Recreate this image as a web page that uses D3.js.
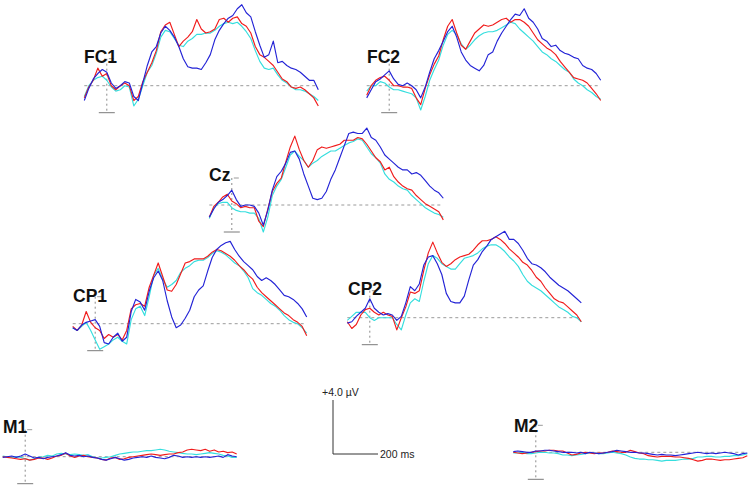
<!DOCTYPE html>
<html><head><meta charset="utf-8">
<script src="https://cdn.jsdelivr.net/npm/d3@7"></script>
<style>html,body{margin:0;padding:0;background:#fff;} svg{display:block;}</style>
</head><body>
<svg id="chart" width="750" height="487"></svg>
<script>
// ---- data (time in ms, amplitude in µV) ----
const times = [-100,-80,-60,-40,-20,0,20,40,60,80,100,120,140,160,180,200,220,240,260,280,300,320,340,360,380,400,420,440,460,480,500,520,540,560,580,600,620,640,660,680,700,720,740,760,780,800,820,840,860,880,900,920,940];
const channels = ["FC1","FC2","Cz","CP1","CP2","M1","M2"];
const conditionNames = ["cyan","red","blue"];

const fc1Red  = [-0.9,-0.1,0.4,1.3,0.7,0.9,0.0,-0.3,0.0,0.2,0.0,-1.1,-0.8,0.3,1.0,1.7,2.6,4.0,4.5,4.7,3.8,2.9,3.3,3.6,4.0,4.9,4.2,3.9,4.0,4.2,4.9,5.0,4.7,5.0,5.1,4.6,4.4,3.9,2.9,2.3,2.1,1.8,1.5,1.0,0.5,0.3,-0.1,-0.2,-0.1,-0.3,-0.6,-0.9,-1.5];
const fc1Blue = [-1.1,-0.2,0.5,0.9,1.2,1.0,0.2,-0.2,0.0,0.3,0.2,-0.8,-1.1,0.2,1.5,2.5,2.9,3.9,4.4,4.1,3.6,2.9,2.0,1.4,1.3,1.3,1.2,1.7,2.3,3.4,4.1,4.6,5.0,5.2,5.7,6.0,5.4,5.1,4.0,3.0,2.1,2.3,3.3,1.7,1.8,1.5,1.3,1.2,1.0,0.7,0.4,0.4,-0.3];
const fc1Cyan = [-0.8,0.0,0.4,0.6,0.7,0.4,-0.1,-0.4,-0.3,0.0,-0.1,-1.5,-1.0,0.0,1.0,1.5,2.4,3.6,4.1,4.0,3.5,3.0,2.9,3.3,3.5,3.8,3.8,3.9,3.9,4.1,4.4,4.6,4.7,4.6,4.7,4.4,4.0,3.5,2.6,1.8,1.3,1.2,1.3,0.8,0.4,0.2,-0.1,-0.3,-0.3,-0.4,-0.6,-0.8,-1.1];

const fc2Red  = [-0.7,0.0,0.4,0.6,0.7,0.4,0.0,0.0,-0.1,-0.1,-0.2,-0.9,-1.4,-0.2,0.8,1.6,2.2,3.4,4.4,4.9,3.9,3.0,2.7,3.3,3.9,4.2,4.5,4.4,4.5,4.7,4.9,5.0,4.7,4.9,4.9,4.7,4.4,3.9,3.4,3.1,2.8,2.6,2.3,1.8,1.4,1.0,0.6,0.5,0.4,0.2,-0.2,-0.6,-1.1];
const fc2Blue = [-0.9,-0.3,0.3,0.5,0.8,1.1,0.5,0.1,0.0,0.2,0.0,-0.3,-0.9,-0.1,1.0,2.0,2.6,3.3,4.0,4.4,3.6,2.5,1.9,1.5,1.3,1.1,1.5,2.3,2.5,3.3,3.9,4.4,4.9,5.3,5.2,5.7,5.0,4.7,4.2,3.5,3.3,2.9,3.0,2.6,2.4,2.3,2.1,2.0,1.5,1.3,1.2,0.9,0.4];
const fc2Cyan = [-0.4,0.0,0.0,0.3,0.2,-0.1,-0.3,-0.3,-0.4,-0.5,-0.6,-0.9,-1.8,-0.8,0.4,1.2,1.9,3.0,3.8,4.1,3.8,3.1,2.7,3.0,3.4,3.7,3.9,4.0,4.0,4.1,4.3,4.5,4.7,4.6,4.2,3.9,3.6,3.3,2.9,2.5,2.3,2.0,1.8,1.5,1.2,1.0,0.5,0.2,0.0,-0.3,-0.5,-0.8,-1.0];

const czRed  = [-0.9,-0.1,0.2,0.6,0.8,0.3,0.1,-0.2,-0.1,-0.2,-0.2,-1.2,-1.6,-0.3,1.0,1.6,2.0,3.2,4.3,5.1,4.1,3.3,2.8,3.3,4.1,4.3,4.2,4.3,4.4,4.5,4.8,4.8,4.8,5.0,4.9,4.5,4.0,3.5,3.2,2.6,2.8,2.1,1.7,1.4,1.2,1.1,0.7,0.4,0.1,-0.1,-0.3,-0.5,-1.1];
const czBlue = [-0.9,-0.3,0.2,0.4,0.7,1.1,0.4,-0.1,0.0,0.0,-0.1,-0.6,-1.5,-0.4,1.1,2.1,2.5,3.1,3.9,4.0,3.4,2.3,1.4,0.5,0.4,0.5,1.0,1.9,2.6,3.5,4.4,5.3,5.4,5.3,5.3,5.7,5.0,4.8,4.3,3.7,3.4,3.1,2.8,2.6,2.6,2.3,2.4,2.2,1.8,1.4,1.1,0.9,0.5];
const czCyan = [-1.0,-0.2,0.1,0.2,0.2,-0.2,-0.4,-0.5,-0.5,-0.6,-0.6,-1.0,-2.0,-0.9,0.7,1.4,1.9,2.8,3.7,4.0,3.6,3.3,2.8,3.1,3.3,3.6,3.8,4.0,4.0,4.2,4.4,4.6,4.7,4.9,4.8,4.3,3.8,3.5,3.1,2.3,1.9,1.7,1.4,1.2,1.1,0.7,0.4,0.1,-0.2,-0.4,-0.6,-0.7,-0.9];

const cp1Red  = [-0.2,-0.5,-0.1,0.9,0.1,-0.3,-0.5,-1.1,-0.8,-1.0,-0.8,-1.2,-0.5,1.1,1.4,1.5,1.3,2.7,3.6,4.5,3.5,2.5,2.4,2.9,3.7,4.5,4.6,4.8,4.8,4.8,5.0,5.3,5.5,5.4,5.2,5.0,4.7,4.3,4.0,3.6,3.3,2.7,2.3,2.0,1.7,1.4,1.1,0.8,0.6,0.3,0.1,-0.2,-0.9];
const cp1Blue = [-0.3,-0.5,-0.1,0.1,0.2,0.3,-0.2,-1.4,-1.5,-1.0,-0.7,-1.3,-1.0,0.9,1.8,1.6,1.0,2.4,3.4,3.9,3.2,1.7,0.5,-0.3,-0.1,0.4,1.0,2.0,2.5,2.8,3.9,4.9,5.5,5.8,6.0,6.1,5.5,5.0,4.6,4.3,4.0,3.5,3.2,3.4,3.2,2.9,2.5,2.1,2.0,1.8,1.5,1.1,0.5];
const cp1Cyan = [-0.3,-0.5,-0.2,0.1,-0.5,-1.2,-1.9,-1.7,-1.5,-1.2,-1.0,-1.3,-1.5,0.3,1.1,1.3,0.6,2.0,3.6,4.1,3.3,2.7,2.9,3.2,3.8,4.1,4.3,4.6,4.7,4.7,4.9,5.2,5.4,5.3,5.1,4.8,4.5,4.3,3.9,3.4,2.6,2.3,2.1,1.8,1.5,1.3,1.0,0.6,0.3,0.1,0.0,-0.3,-0.7];

const cp2Red  = [-0.3,-0.8,-0.5,0.2,0.6,0.7,0.4,0.2,0.4,0.2,0.1,-0.9,0.0,0.8,1.9,1.8,2.0,3.5,4.8,5.6,4.8,4.1,3.8,4.0,4.3,4.5,4.6,4.7,5.0,5.4,5.7,5.7,5.8,6.0,5.8,5.5,5.1,4.8,4.5,4.1,3.9,3.5,3.0,2.7,2.2,1.8,1.4,1.2,1.1,0.8,0.5,0.2,-0.3];
const cp2Blue = [-0.4,-0.3,0.1,0.4,0.7,1.4,0.7,0.4,0.2,0.3,0.2,-0.2,0.1,1.1,2.3,2.0,2.5,3.9,4.5,4.6,4.0,3.2,1.8,1.2,1.1,1.1,1.6,2.8,3.9,4.3,4.9,5.3,5.8,6.0,6.2,6.4,5.8,5.8,5.5,5.0,4.4,4.0,3.9,3.7,3.4,3.0,2.7,2.4,2.2,2.0,1.7,1.4,1.1];
const cp2Cyan = [-0.2,0.1,0.4,0.4,0.4,0.0,-0.2,0.0,0.0,0.0,0.0,-0.5,-0.9,0.2,1.1,1.4,1.2,2.7,4.0,4.6,4.4,4.0,3.8,3.6,3.6,4.0,4.4,4.5,4.6,4.8,5.1,5.3,5.4,5.4,5.2,4.9,4.5,4.2,3.8,3.2,2.7,2.4,2.2,2.0,1.7,1.4,1.1,0.8,0.6,0.4,0.1,0.0,-0.3];

const m1Red  = [0.0,-0.05,-0.1,-0.15,-0.2,-0.15,-0.25,-0.2,-0.1,-0.1,-0.2,-0.1,0.05,0.1,0.25,0.05,-0.05,0.05,0.1,0.0,-0.05,-0.1,-0.2,-0.25,-0.1,-0.05,-0.2,-0.15,-0.05,0.0,0.05,0.1,0.15,0.2,0.15,0.1,0.15,0.2,0.2,0.3,0.35,0.5,0.55,0.5,0.45,0.55,0.4,0.5,0.35,0.4,0.3,0.35,0.2];
const m1Blue = [-0.05,0.0,0.05,-0.05,0.05,0.2,0.05,-0.1,-0.05,-0.15,-0.05,0.0,0.05,0.15,0.3,0.1,0.05,0.1,0.0,0.05,-0.05,-0.1,-0.2,-0.25,-0.15,-0.05,-0.15,-0.25,-0.2,-0.1,-0.05,0.0,-0.05,0.05,-0.05,-0.1,-0.15,-0.05,0.1,0.05,-0.05,0.0,-0.05,0.0,-0.05,0.0,-0.05,0.0,0.05,-0.05,0.15,0.05,0.0];
const m1Cyan = [0.05,0.0,-0.05,0.0,-0.05,-0.15,-0.25,-0.15,-0.05,0.0,0.1,0.05,0.2,0.25,0.2,0.15,0.2,0.15,0.1,0.15,0.0,-0.1,-0.1,-0.05,0.0,0.1,0.2,0.25,0.3,0.35,0.35,0.4,0.45,0.45,0.5,0.55,0.5,0.4,0.35,0.3,0.25,0.2,0.2,0.15,0.2,0.25,0.3,0.25,0.2,0.1,0.05,-0.05,-0.05];

const m2Red  = [0.0,-0.05,-0.1,-0.05,0.0,0.05,0.1,0.1,0.15,0.15,0.1,0.1,-0.05,-0.2,-0.15,-0.05,0.0,-0.05,-0.1,-0.05,-0.05,0.0,0.1,0.05,0.0,0.0,0.15,0.05,-0.05,-0.1,-0.25,-0.3,-0.35,-0.3,-0.3,-0.3,-0.35,-0.35,-0.4,-0.45,-0.55,-0.65,-0.6,-0.5,-0.5,-0.55,-0.6,-0.55,-0.55,-0.5,-0.45,-0.4,-0.25];
const m2Blue = [0.05,0.1,0.05,0.0,0.0,0.1,0.1,0.15,0.15,0.1,0.05,0.0,0.0,0.0,-0.05,0.0,-0.1,0.0,-0.05,-0.1,-0.05,0.0,0.05,0.15,0.1,0.05,0.0,0.0,-0.05,-0.05,-0.1,-0.15,-0.2,-0.15,-0.2,-0.2,-0.25,-0.2,-0.15,-0.1,-0.05,0.0,-0.05,-0.1,-0.05,-0.1,-0.05,0.0,-0.05,-0.1,-0.2,-0.1,-0.05];
const m2Cyan = [-0.05,-0.05,0.0,-0.1,-0.1,-0.05,0.0,0.0,-0.05,-0.05,-0.1,-0.2,-0.2,-0.25,-0.2,-0.15,-0.1,-0.05,-0.05,-0.1,-0.1,-0.05,0.0,-0.05,-0.1,-0.2,-0.35,-0.45,-0.5,-0.5,-0.55,-0.55,-0.6,-0.65,-0.6,-0.6,-0.6,-0.55,-0.5,-0.5,-0.45,-0.35,-0.35,-0.3,-0.3,-0.35,-0.35,-0.3,-0.3,-0.25,-0.25,-0.2,-0.1];

const scaleBarLabels = ["+4.0 µV", "200 ms"];
const scaleBarValues = [4, 200];

// ---- assembly (layout separate from data) ----
const series = {
  FC1: {cyan: fc1Cyan, red: fc1Red, blue: fc1Blue},
  FC2: {cyan: fc2Cyan, red: fc2Red, blue: fc2Blue},
  Cz:  {cyan: czCyan,  red: czRed,  blue: czBlue},
  CP1: {cyan: cp1Cyan, red: cp1Red, blue: cp1Blue},
  CP2: {cyan: cp2Cyan, red: cp2Red, blue: cp2Blue},
  M1:  {cyan: m1Cyan,  red: m1Red,  blue: m1Blue},
  M2:  {cyan: m2Cyan,  red: m2Red,  blue: m2Blue}
};
const layout = {
  FC1: {x: 84.3,  base: 85.7,  lx: 84,  ly: 62.5},
  FC2: {x: 366.7, base: 85.7,  lx: 367, ly: 63},
  Cz:  {x: 209.3, base: 205,   lx: 209, ly: 181},
  CP1: {x: 72.7,  base: 323.7, lx: 73,  ly: 302},
  CP2: {x: 347.3, base: 317.7, lx: 348, ly: 295},
  M1:  {x: 2.7,   base: 456.7, lx: 3,   ly: 433},
  M2:  {x: 513.3, base: 452.3, lx: 514, ly: 432}
};
const colors = {cyan: "#35dede", red: "#f01c1c", blue: "#2323d6"};
const epochW = 234;      // px for the whole epoch
const pxPerUV = 13.5;    // px per µV

const svg = d3.select("#chart");
const FONT = "'Liberation Sans', Arial, Helvetica, sans-serif";

channels.forEach(ch => {
  const L = layout[ch];
  const x = d3.scaleLinear().domain([times[0], times[times.length-1]]).range([L.x, L.x + epochW]);
  const y = d3.scaleLinear().domain([-2, 2]).range([L.base + 2*pxPerUV, L.base - 2*pxPerUV]);
  const g = svg.append("g");

  // baseline (dashed)
  g.append("line")
    .attr("x1", x(times[0])).attr("x2", x(times[times.length-1]))
    .attr("y1", y(0)).attr("y2", y(0))
    .attr("stroke", "#9a9a9a").attr("stroke-width", 1)
    .attr("stroke-dasharray", "3,3");
  // vertical axis at t=0
  g.append("line")
    .attr("x1", x(0)).attr("x2", x(0))
    .attr("y1", y(2)).attr("y2", y(-2))
    .attr("stroke", "#8a8a8a").attr("stroke-width", 1)
    .attr("stroke-dasharray", "2,3");
  // bottom tick
  g.append("line")
    .attr("x1", x(0) - 8).attr("x2", x(0) + 8)
    .attr("y1", y(-2)).attr("y2", y(-2))
    .attr("stroke", "#7a7a7a").attr("stroke-width", 1);
  // top tick
  g.append("line")
    .attr("x1", x(0) + 2).attr("x2", x(0) + 7)
    .attr("y1", y(2)).attr("y2", y(2))
    .attr("stroke", "#9a9a9a").attr("stroke-width", 1);

  const line = d3.line().x((d, i) => x(times[i])).y(d => y(d));
  conditionNames.forEach(c => {
    g.append("path")
      .datum(series[ch][c])
      .attr("d", line)
      .attr("fill", "none")
      .attr("stroke", colors[c])
      .attr("stroke-width", 1.15)
      .attr("stroke-linejoin", "round");
  });

  svg.append("text")
    .attr("x", L.lx).attr("y", L.ly)
    .attr("font-family", FONT)
    .attr("font-weight", "bold")
    .attr("font-size", 17.5)
    .attr("fill", "#111")
    .text(ch);
});

// ---- calibration bar ----
const sbX = d3.scaleLinear().domain([0, scaleBarValues[1]]).range([333, 333 + scaleBarValues[1] * epochW / (times[times.length-1] - times[0])]);
const sbY = d3.scaleLinear().domain([0, scaleBarValues[0]]).range([454, 454 - scaleBarValues[0] * pxPerUV]);
svg.append("path")
  .attr("d", `M${sbX(0)},${sbY(scaleBarValues[0])}V${sbY(0)}H${sbX(scaleBarValues[1])}`)
  .attr("fill", "none").attr("stroke", "#333").attr("stroke-width", 1);
svg.append("text")
  .attr("x", sbX(0) - 11).attr("y", sbY(scaleBarValues[0]) - 4)
  .attr("font-family", FONT).attr("font-size", 10.5).attr("fill", "#222")
  .text(scaleBarLabels[0]);
svg.append("text")
  .attr("x", sbX(scaleBarValues[1]) + 2).attr("y", sbY(0) + 4)
  .attr("font-family", FONT).attr("font-size", 10.5).attr("fill", "#222")
  .text(scaleBarLabels[1]);
</script>
</body></html>
